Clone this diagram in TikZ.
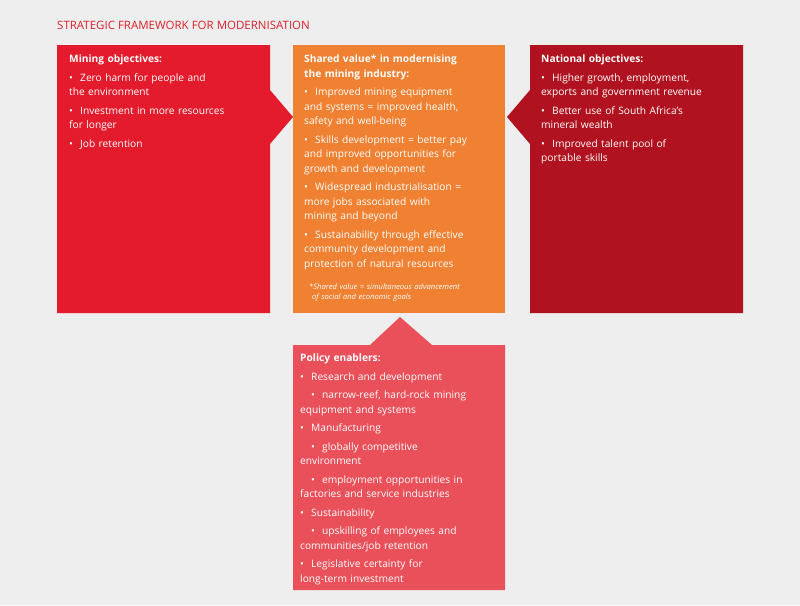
\documentclass[tikz,border=0pt]{standalone}
\usepackage{fontspec}
\setmainfont{Open Sans}
\definecolor{bgGrey}{HTML}{EEEEEE}
\definecolor{titleRed}{HTML}{DA202C}
\definecolor{miningRed}{HTML}{E31B2C}
\definecolor{sharedOrange}{HTML}{F08132}
\definecolor{nationalRed}{HTML}{B0121F}
\definecolor{policyRed}{HTML}{E9505A}
\newcommand{\itm}[1]{\par\noindent\hangindent=11pt\hangafter=1\makebox[11pt][l]{\textbullet}#1}
\newcommand{\subitm}[1]{\par\noindent\hangindent=22pt\hangafter=1\hspace*{11pt}\makebox[11pt][l]{\textbullet}#1}
\newcommand{\gap}{\par\vspace{4pt}}
\tikzset{
  txt/.style = {anchor=north west, text=white, inner sep=0pt, align=left,
    text width=205pt, font=\fontsize{10.2}{14.5}\selectfont},
}
\begin{document}
\begin{tikzpicture}[x=1pt, y=-1pt]
  \fill[bgGrey] (0,0) rectangle (800,605);
  \useasboundingbox (0,0) rectangle (800,605);
  \node[anchor=west, text=titleRed, font=\fontsize{11.5}{13}\selectfont, inner sep=0pt] (title) at (57,25) {STRATEGIC FRAMEWORK FOR MODERNISATION};

  % boxes
  \fill[miningRed] (57,45) -- (270,45) -- (270,90) -- (293,117) -- (270,144) -- (270,313) -- (57,313) -- cycle;
  \fill[sharedOrange] (293,45) rectangle (505,313);
  \fill[nationalRed] (530,45) -- (743,45) -- (743,313) -- (530,313) -- (530,144) -- (507,117) -- (530,90) -- cycle;
  \fill[policyRed] (293,345) -- (370,345) -- (400,317) -- (432,345) -- (505,345) -- (505,590) -- (293,590) -- cycle;

  \node[txt] (mining) at (69,55) {\textbf{Mining objectives:}\gap
    \itm{Zero harm for people and\\the environment}\gap
    \itm{Investment in more resources\\for longer}\gap
    \itm{Job retention}};
  \node[txt] (shared) at (304,55) {\textbf{Shared value* in modernising\\the mining industry:}\gap
    \itm{Improved mining equipment\\and systems = improved health,\\safety and well-being}\gap
    \itm{Skills development = better pay\\and improved opportunities for\\growth and development}\gap
    \itm{Widespread industrialisation =\\more jobs associated with\\mining and beyond}\gap
    \itm{Sustainability through effective\\community development and\\protection of natural resources}};
  \node[txt, font=\fontsize{7.6}{10.5}\selectfont\itshape] (note) at (309,283) {*Shared value = simultaneous advancement\\\hspace*{3pt}of social and economic goals};
  \node[txt] (national) at (541,55) {\textbf{National objectives:}\gap
    \itm{Higher growth, employment,\\exports and government revenue}\gap
    \itm{Better use of South Africa's\\mineral wealth}\gap
    \itm{Improved talent pool of\\portable skills}};
  \node[txt] (policy) at (300,354) {\textbf{Policy enablers:}\gap
    \itm{Research and development}\gap
    \subitm{narrow-reef, hard-rock mining\\equipment and systems}\gap
    \itm{Manufacturing}\gap
    \subitm{globally competitive\\environment}\gap
    \subitm{employment opportunities in\\factories and service industries}\gap
    \itm{Sustainability}\gap
    \subitm{upskilling of employees and\\communities/job retention}\gap
    \itm{Legislative certainty for\\long-term investment}};
\end{tikzpicture}
\end{document}
